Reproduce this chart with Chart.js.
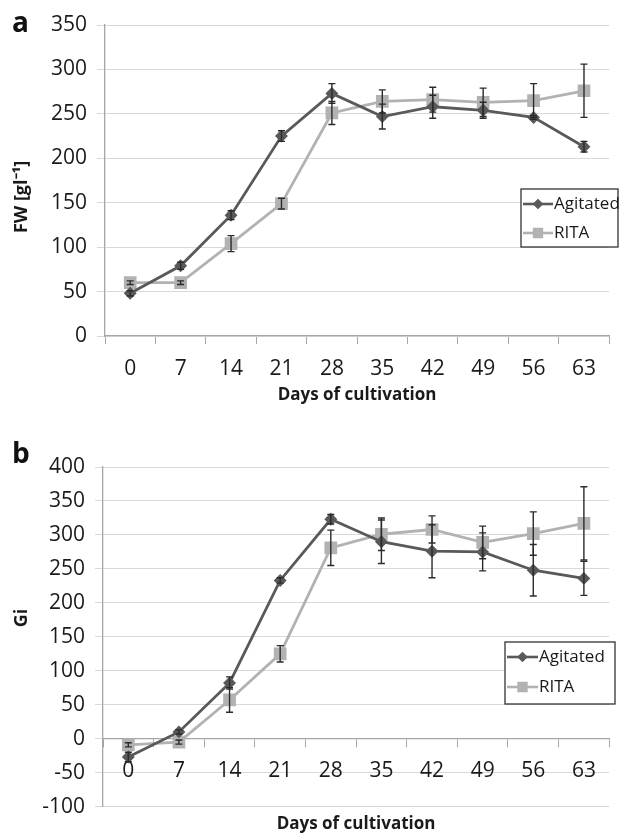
<!DOCTYPE html>
<html>
<head>
<meta charset="utf-8">
<script src="https://cdn.jsdelivr.net/npm/chart.js@4.4.0/dist/chart.umd.min.js"></script>
<style>
    body { margin: 0; background: #fff; }
    #wrap { position: relative; width: 619px; height: 836px; overflow: hidden; font-family: "Open Sans", sans-serif; }
    .panel { position: absolute; left: 0; }
    .letter { position: absolute; left: 12px; font-size: 28px; font-weight: bold; line-height: 28px; color: #111; }
</style>
</head>
<body>
<div id="wrap">
    <div class="panel" style="top:0; width:619px; height:410px;"><canvas id="fwChart"></canvas></div>
    <div class="panel" style="top:410px; width:619px; height:426px;"><canvas id="giChart"></canvas></div>
    <div class="letter" style="top:7px;">a</div>
    <div class="letter" style="top:438px;">b</div>
</div>
<script>
// Days of cultivation (shared x categories)
var days = ['0', '7', '14', '21', '28', '35', '42', '49', '56', '63'];
var seriesNames = ['Agitated', 'RITA'];

// Panel a: fresh weight FW [g/l]
var fwAgitated    = [48, 79, 136, 225, 273, 247, 258, 254, 246, 213];
var fwAgitatedErr = [3, 4, 5, 6, 11, 14, 13, 9, 2, 6];
var fwRita        = [60, 60, 104, 149, 251, 264, 266, 263, 265, 276];
var fwRitaErr     = [2, 2, 9, 6, 13, 13, 14, 16, 19, 30];

// Panel b: growth index Gi
var giAgitated    = [-27, 10, 82, 233, 323, 290, 276, 275, 248, 236];
var giAgitatedErr = [7, 3, 9, 4, 7, 32, 39, 28, 38, 25];
var giRita        = [-9, -5, 57, 125, 281, 301, 308, 289, 302, 317];
var giRitaErr     = [3, 3, 18, 12, 26, 24, 20, 24, 32, 54];

var colors = { agitated: '#595959', rita: '#b2b2b2', grid: '#d9d9d9', axis: '#a6a6a6', text: '#1a1a1a' };

// Draws the +/- error bars from the errors stored on each dataset
var errorBarPlugin = {
    id: 'errorBars',
    afterDatasetsDraw: function(chart) {
        var ctx = chart.ctx;
        var yScale = chart.scales.y;
        ctx.save();
        ctx.strokeStyle = '#2b2b2b';
        ctx.lineWidth = 1.4;
        chart.data.datasets.forEach(function(ds, i) {
            var meta = chart.getDatasetMeta(i);
            meta.data.forEach(function(pt, j) {
                var v = ds.data[j], e = ds.errors[j];
                var top = yScale.getPixelForValue(v + e);
                var bot = yScale.getPixelForValue(v - e);
                ctx.beginPath();
                ctx.moveTo(pt.x, top); ctx.lineTo(pt.x, bot);
                ctx.moveTo(pt.x - 3.5, top); ctx.lineTo(pt.x + 3.5, top);
                ctx.moveTo(pt.x - 3.5, bot); ctx.lineTo(pt.x + 3.5, bot);
                ctx.stroke();
            });
        });
        ctx.restore();
    }
};

// Boxed legend drawn inside the plot, like the original spreadsheet chart
var boxLegendPlugin = {
    id: 'boxLegend',
    afterDraw: function(chart, args, opts) {
        var ctx = chart.ctx;
        ctx.save();
        ctx.fillStyle = '#fff';
        ctx.fillRect(opts.x, opts.y, opts.w, opts.h);
        ctx.strokeStyle = '#333';
        ctx.lineWidth = 1.3;
        ctx.strokeRect(opts.x, opts.y, opts.w, opts.h);
        chart.data.datasets.forEach(function(ds, i) {
            var cy = opts.y + opts.rowTop + i * opts.rowGap;
            var x0 = opts.x + 2;
            ctx.strokeStyle = ds.borderColor;
            ctx.lineWidth = 2.6;
            ctx.beginPath();
            ctx.moveTo(x0, cy); ctx.lineTo(x0 + opts.sample, cy);
            ctx.stroke();
            ctx.fillStyle = ds.borderColor;
            Chart.helpers.drawPoint(ctx, { pointStyle: ds.pointStyle, radius: ds.legendRadius, borderWidth: 1 }, x0 + opts.sample / 2, cy);
            ctx.fillStyle = colors.text;
            ctx.font = '17px "Open Sans"';
            ctx.textBaseline = 'middle';
            ctx.fillText(ds.label, x0 + opts.sample + 1, cy);
        });
        ctx.restore();
    }
};

// Builds a line chart config for one panel
function makeConfig(agitated, agitatedErr, rita, ritaErr, yMin, yMax, yTitle, legendPos, bottomTitle) {
    return {
        type: 'line',
        data: {
            labels: days,
            datasets: [{
                label: seriesNames[0],
                data: agitated,
                errors: agitatedErr,
                borderColor: colors.agitated,
                backgroundColor: colors.agitated,
                borderWidth: 2.8,
                pointStyle: 'rectRot',
                pointRadius: 4.5,
                legendRadius: 3.5,
                tension: 0
            }, {
                label: seriesNames[1],
                data: rita,
                errors: ritaErr,
                borderColor: colors.rita,
                backgroundColor: colors.rita,
                borderWidth: 2.8,
                pointStyle: 'rect',
                pointRadius: 7,
                legendRadius: 5.5,
                tension: 0
            }]
        },
        options: {
            responsive: true,
            maintainAspectRatio: false,
            animation: false,
            layout: { padding: { top: legendPos.padTop, right: 4, bottom: 0, left: 0 } },
            scales: {
                x: {
                    type: 'category',
                    offset: true,
                    position: bottomTitle ? { y: 0 } : 'bottom',
                    grid: { drawOnChartArea: false, offset: true, tickLength: 8, color: colors.axis },
                    border: { color: colors.axis, width: 1.3 },
                    ticks: { color: colors.text, padding: 12, font: { family: 'Open Sans', size: 21 } },
                    title: bottomTitle ? { display: false } : {
                        display: true, text: 'Days of cultivation', color: colors.text,
                        padding: { top: 0, bottom: 5 }, font: { family: 'Open Sans', size: 17, weight: 'bold' }
                    },
                    afterFit: function(scale) { if (!bottomTitle) scale.height = 74; }
                },
                y: {
                    min: yMin,
                    max: yMax,
                    ticks: { stepSize: 50, color: colors.text, padding: 10, font: { family: 'Open Sans', size: 21 } },
                    grid: { color: colors.grid, tickLength: 8 },
                    border: { color: colors.axis, width: 1.3 },
                    title: {
                        display: true, text: yTitle, color: colors.text,
                        padding: { top: 11, bottom: 0 }, font: { family: 'Open Sans', size: 18, weight: 'bold' }
                    },
                    afterFit: function(scale) { scale.width = legendPos.axisWidth; }
                }
            },
            plugins: {
                legend: { display: false },
                tooltip: { enabled: false },
                title: bottomTitle ? {
                    display: true, text: 'Days of cultivation', position: 'bottom', fullSize: false,
                    color: colors.text, padding: { top: 7, bottom: 2 },
                    font: { family: 'Open Sans', size: 17, weight: 'bold' }
                } : { display: false },
                boxLegend: legendPos
            }
        },
        plugins: [errorBarPlugin, boxLegendPlugin]
    };
}

// Spaces nudge the rotated titles off-centre the way the original sits
var charts = {
    fw: new Chart(document.getElementById('fwChart').getContext('2d'),
        makeConfig(fwAgitated, fwAgitatedErr, fwRita, fwRitaErr, 0, 350, 'FW [gl\u207B\u00B9]       ',
            { x: 521, y: 189, w: 97, h: 58, rowTop: 15, rowGap: 29, sample: 30, padTop: 25, axisWidth: 105 }, false)),
    gi: new Chart(document.getElementById('giChart').getContext('2d'),
        makeConfig(giAgitated, giAgitatedErr, giRita, giRitaErr, -100, 400, '        Gi',
            { x: 505, y: 232, w: 110, h: 62, rowTop: 15, rowGap: 30, sample: 31, padTop: 57, axisWidth: 103 }, true))
};
</script>
</body>
</html>
